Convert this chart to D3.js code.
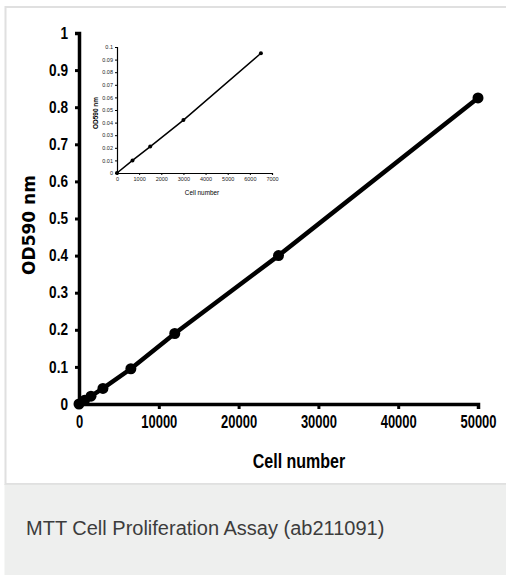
<!DOCTYPE html>
<html>
<head>
<meta charset="utf-8">
<script src="https://cdn.jsdelivr.net/npm/d3@7"></script>
<style>
  body { margin: 0; background: #fff; }
  svg { display: block; }
</style>
</head>
<body>
<div id="chart"></div>
<script>
// main curve: cell number vs OD590
const cells = [0, 700, 1500, 3000, 6500, 12000, 25000, 50000];
const od = [0, 0.01, 0.021, 0.042, 0.095, 0.19, 0.40, 0.825];
// inset (low range)
const insetCells = [0, 700, 1500, 3000, 6500];
const insetOd = [0, 0.01, 0.021, 0.042, 0.095];

const xTicks = [0, 10000, 20000, 30000, 40000, 50000];
const yTicks = [0, 0.1, 0.2, 0.3, 0.4, 0.5, 0.6, 0.7, 0.8, 0.9, 1];
const insetXTicks = [0, 1000, 2000, 3000, 4000, 5000, 6000, 7000];
const insetYTicks = [0, 0.01, 0.02, 0.03, 0.04, 0.05, 0.06, 0.07, 0.08, 0.09, 0.1];
const caption = "MTT Cell Proliferation Assay (ab211091)";

const W = 506, H = 575;
const sans = "'Liberation Sans', Arial, sans-serif";

const svg = d3.select("#chart").append("svg").attr("width", W).attr("height", H);

// frame + caption area
svg.append("rect").attr("x", 5.5).attr("y", 7).attr("width", W).attr("height", 477)
  .attr("fill", "#fff").attr("stroke", "#e0e0e0").attr("stroke-width", 2);
svg.append("rect").attr("x", 4.5).attr("y", 484).attr("width", W).attr("height", H - 484)
  .attr("fill", "#eeefee");
svg.append("line").attr("x1", 4.5).attr("x2", W).attr("y1", 484.5).attr("y2", 484.5)
  .attr("stroke", "#e2e3e2");
svg.append("text").text(caption)
  .attr("x", 26).attr("y", 535)
  .style("font-family", sans)
  .style("font-size", "20px").style("fill", "#3c3c3c");

// ---- main chart ----
const x = d3.scaleLinear().domain([0, 50000]).range([79, 478]);
const y = d3.scaleLinear().domain([0, 1]).range([404, 33]);
const g = svg.append("g");

const xAx = g.append("g").attr("transform", `translate(0,${y(0)})`)
  .call(d3.axisBottom(x).tickValues(xTicks).tickSize(5).tickPadding(6).tickFormat(d3.format("d")));
const yAx = g.append("g").attr("transform", `translate(${x(0)},0)`)
  .call(d3.axisLeft(y).tickValues(yTicks).tickSize(4).tickPadding(7).tickFormat(d => d3.format("")(+d.toFixed(1))));
[xAx, yAx].forEach(a => {
  a.select(".domain").attr("stroke", "#000").attr("stroke-width", 3.5);
  a.selectAll(".tick line").attr("stroke", "#000").attr("stroke-width", 3);
  a.selectAll("text").style("font-family", sans).style("font-weight", "bold").style("fill", "#000");
});
// condensed look of the original labels
xAx.selectAll("text").style("font-size", "18px").attr("transform", "scale(0.72,1)");
yAx.selectAll("text").style("font-size", "16px").attr("transform", "scale(0.85,1)").attr("x", -11 / 0.85);

const line = d3.line().x(d => x(d[0])).y(d => y(d[1]));
const pts = cells.map((c, i) => [c, od[i]]);
g.append("path").datum(pts).attr("d", line)
  .attr("fill", "none").attr("stroke", "#000").attr("stroke-width", 4.5);
g.selectAll(".dot").data(pts).join("circle")
  .attr("cx", d => x(d[0])).attr("cy", d => y(d[1])).attr("r", 5.5).attr("fill", "#000");

g.append("text").text("Cell number")
  .attr("transform", "translate(299,468) scale(0.8,1)").attr("text-anchor", "middle")
  .style("font-family", sans).style("font-weight", "bold").style("font-size", "20px");
g.append("text").text("OD590 nm")
  .attr("transform", "translate(35,225) rotate(-90)").attr("text-anchor", "middle")
  .style("font-family", "'DejaVu Sans', sans-serif").style("font-weight", "bold").style("font-size", "17px");

// ---- inset ----
const ix = d3.scaleLinear().domain([0, 7000]).range([117, 272]);
const iy = d3.scaleLinear().domain([0, 0.1]).range([173, 47]);
const ig = svg.append("g");
const ixAx = ig.append("g").attr("transform", `translate(0,${iy(0)})`)
  .call(d3.axisBottom(ix).tickValues(insetXTicks).tickSize(2).tickPadding(2).tickFormat(d3.format("d")));
const iyAx = ig.append("g").attr("transform", `translate(${ix(0)},0)`)
  .call(d3.axisLeft(iy).tickValues(insetYTicks).tickSize(2).tickPadding(2).tickFormat(d => d3.format("")(+d.toFixed(2))));
[ixAx, iyAx].forEach(a => {
  a.select(".domain").attr("stroke", "#000").attr("stroke-width", 1.2);
  a.selectAll(".tick line").attr("stroke", "#000").attr("stroke-width", 1);
  a.selectAll("text").style("font-family", sans).style("font-size", "5.5px").style("fill", "#222");
});
const ipts = insetCells.map((c, i) => [c, insetOd[i]]);
const iline = d3.line().x(d => ix(d[0])).y(d => iy(d[1]));
ig.append("path").datum(ipts).attr("d", iline)
  .attr("fill", "none").attr("stroke", "#000").attr("stroke-width", 1.5);
ig.selectAll(".idot").data(ipts).join("circle")
  .attr("cx", d => ix(d[0])).attr("cy", d => iy(d[1])).attr("r", 2).attr("fill", "#000");
ig.append("text").text("Cell number")
  .attr("transform", "translate(202,195) scale(0.85,1)").attr("text-anchor", "middle")
  .style("font-family", sans).style("font-size", "7.5px").style("fill", "#000");
ig.append("text").text("OD590 nm")
  .attr("transform", "translate(98,113) rotate(-90)").attr("text-anchor", "middle")
  .style("font-family", sans).style("font-weight", "bold").style("font-size", "6.5px");
</script>
</body>
</html>
